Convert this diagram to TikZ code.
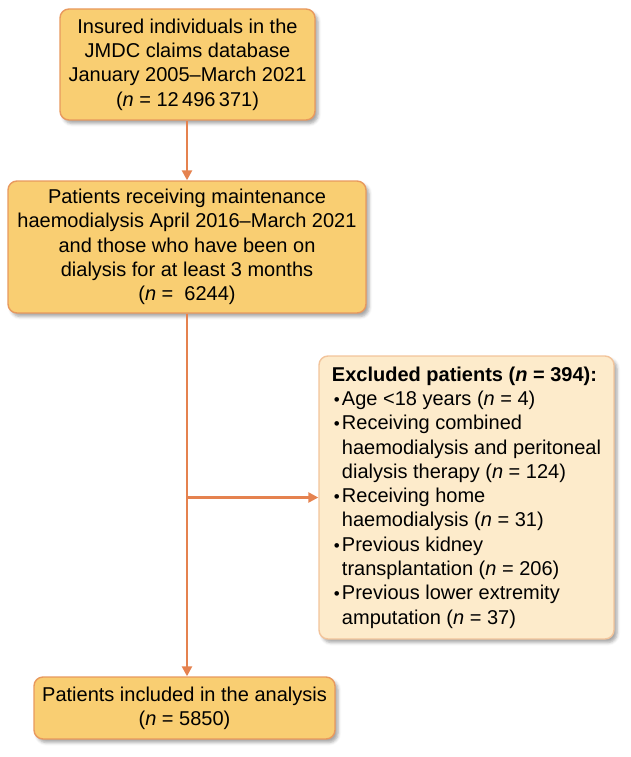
\documentclass[tikz,border=0pt]{standalone}
\usepackage{fontspec}
\setmainfont{Liberation Sans}
\usetikzlibrary{arrows.meta,shadows.blur}
\definecolor{boxfill}{HTML}{F9CE72}
\definecolor{boxline}{HTML}{E8995E}
\definecolor{exfill}{HTML}{FDEBCB}
\definecolor{exline}{HTML}{F2C49B}
\definecolor{arrowc}{HTML}{E5824F}
\newcommand{\bul}{\makebox[10pt][l]{\hspace{2pt}\scalebox{0.85}{•}}}
\newcommand{\ind}{\hspace*{10pt}}
\begin{document}
\begin{tikzpicture}[x=1pt,y=-1pt,
  font=\fontsize{20}{24.3}\selectfont,
  mainbox/.style={draw=boxline, fill=boxfill, line width=1.4pt, rounded corners=9pt,
    align=center, inner sep=0pt,
    blur shadow={shadow xshift=3pt, shadow yshift=-3.5pt, shadow blur radius=3pt, shadow opacity=35}},
  exbox/.style={draw=exline, fill=exfill, line width=1.4pt, rounded corners=9pt,
    align=left, inner sep=0pt,
    blur shadow={shadow xshift=3pt, shadow yshift=-3.5pt, shadow blur radius=3pt, shadow opacity=35}},
  flow/.style={draw=arrowc, line width=2.4pt, -{Triangle[length=10pt,width=10pt]}}]
\useasboundingbox (0,0) rectangle (630,757);
\node[mainbox, minimum width=255pt, minimum height=111pt] (b1) at (187.5,64.5)
  {Insured individuals in the\\JMDC claims database\\January 2005--March 2021\\(\textit{n} = 12\,496\,371)};
\node[mainbox, minimum width=358pt, minimum height=132pt] (b2) at (187,247)
  {Patients receiving maintenance\\haemodialysis April 2016--March 2021\\and those who have been on\\dialysis for at least 3 months\\(\textit{n} = \ 6244)};
\node[exbox, minimum width=295pt, minimum height=283pt] (b3) at (466.5,497.5)
  {\textbf{Excluded patients (\textit{n} = 394):}\\
   \bul Age <18 years (\textit{n} = 4)\\
   \bul Receiving combined\\
   \ind haemodialysis and peritoneal\\
   \ind dialysis therapy (\textit{n} = 124)\\
   \bul Receiving home\\
   \ind haemodialysis (\textit{n} = 31)\\
   \bul Previous kidney\\
   \ind transplantation (\textit{n} = 206)\\
   \bul Previous lower extremity\\
   \ind amputation (\textit{n} = 37)};
\node[mainbox, minimum width=301pt, minimum height=62pt] (b4) at (184.5,708)
  {Patients included in the analysis\\(\textit{n} = 5850)};
\coordinate (c1) at (187,120.7);
\coordinate (c2) at (187,313.7);
\coordinate (c3) at (187,497.5);
\draw[flow] (c1) -- (c1 |- b2.north);
\draw[flow] (c2) -- (c2 |- b4.north);
\draw[flow] (c3) -- (b3.west);
\end{tikzpicture}
\end{document}
